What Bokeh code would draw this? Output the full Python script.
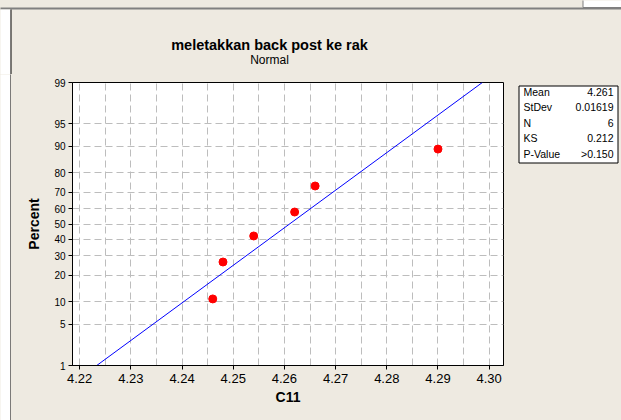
from statistics import NormalDist
from bokeh.plotting import figure
from bokeh.layouts import column, row
from bokeh.models import (Range1d, FixedTicker, NumeralTickFormatter,
                          ColumnDataSource)
from bokeh.core.properties import value
from bokeh.embed import file_html
from bokeh.resources import INLINE

# ---- data ----
values = [4.246, 4.248, 4.254, 4.262, 4.266, 4.290]
percents = [10.9, 26.6, 42.2, 57.8, 73.4, 89.1]
x_ticks = [4.22, 4.23, 4.24, 4.25, 4.26, 4.27, 4.28, 4.29, 4.30]
y_tick_pcts = [1, 5, 10, 20, 30, 40, 50, 60, 70, 80, 90, 95, 99]
stat_names = ["Mean", "StDev", "N", "KS", "P-Value"]
stat_values = ["4.261", "0.01619", "6", "0.212", ">0.150"]
mean_val = 4.261
sd_val = 0.01619
fit_pcts = [1, 99]
title_text = "meletakkan back post ke rak"
subtitle_text = "Normal"

nd = NormalDist()
def z(p):
    return nd.inv_cdf(p / 100.0)

W, H = 621, 420
BG = "#EEEAE1"
FONT = "Liberation Sans"

# page-layout constants (pixels from the page's top-left)
TOP_H = 9          # strip at the very top
LEFT_W = 11        # white strip + black line at the left
HEAD_B = 74        # bottom of the title area
MAIN_R = 510       # right edge of the main plot figure
FL, FR, FT, FB = 72, 503, 82, 365   # plot frame edges


def canvas_fig(x0, x1, y0, y1):
    """Figure whose frame is its whole canvas, in page pixel coordinates."""
    f = figure(width=x1 - x0, height=y1 - y0, output_backend="svg",
               toolbar_location=None, x_range=Range1d(x0, x1),
               y_range=Range1d(y1, y0), x_axis_type=None, y_axis_type=None,
               min_border=0, min_border_left=0, min_border_right=0,
               min_border_top=0, min_border_bottom=0, frame_align=False)
    f.grid.visible = False
    f.outline_line_color = None
    f.background_fill_color = BG
    f.border_fill_color = BG
    return f


def put_text(f, x, y, s, size, align="left", bold=False):
    f.text(x=[x], y=[y], text=[s], text_font=value(FONT),
           text_font_size=size, text_font_style="bold" if bold else "normal",
           text_align=align, text_baseline="alphabetic", text_color="black")


def left_strip(f, y0, y1):
    f.quad(left=[-1], right=[10], top=[y0], bottom=[y1], fill_color="white",
           line_color=None)
    f.quad(left=[10], right=[LEFT_W], top=[y0], bottom=[y1],
           fill_color="black", line_color=None)


# ---- header: top strip, left strip (upper part), title ----
head = canvas_fig(0, W, 0, HEAD_B)
head.quad(left=[-1], right=[W + 1], top=[7], bottom=[TOP_H],
          fill_color="#808080", line_color=None)
head.quad(left=[582.5], right=[W + 1], top=[-1], bottom=[7],
          fill_color="white", line_color="#7F7F7F", line_width=1)
left_strip(head, TOP_H, HEAD_B + 1)
put_text(head, 269, 44, title_text, "14.5px", "center", bold=True)
put_text(head, 269, 59, subtitle_text, "12px", "center")

# ---- left strip (lower part) ----
left = canvas_fig(0, LEFT_W, HEAD_B, H)
left_strip(left, HEAD_B - 1, H + 1)

# ---- main probability plot ----
p = figure(width=MAIN_R - LEFT_W, height=H - HEAD_B, output_backend="svg",
           toolbar_location=None, frame_align=False,
           x_range=Range1d(4.2186, 4.3028), y_range=Range1d(z(1), z(99)),
           min_border_left=FL - LEFT_W, min_border_right=MAIN_R - FR,
           min_border_top=FT - HEAD_B, min_border_bottom=H - FB)
p.background_fill_color = "white"
p.border_fill_color = BG
p.outline_line_color = "black"
p.outline_line_width = 1

minor = [(a + b) / 2 for a, b in zip(x_ticks[:-1], x_ticks[1:])]
p.xaxis.ticker = FixedTicker(ticks=x_ticks, minor_ticks=minor)
p.xaxis.formatter = NumeralTickFormatter(format="0.00")
p.yaxis.ticker = FixedTicker(ticks=[z(v) for v in y_tick_pcts])
p.yaxis.major_label_overrides = {z(v): str(v) for v in y_tick_pcts}

for ax in (p.xaxis[0], p.yaxis[0]):
    ax.axis_line_color = "black"
    ax.major_tick_line_color = "black"
    ax.major_tick_in = 0
    ax.major_tick_out = 4
    ax.minor_tick_line_color = None
    ax.major_label_text_font = FONT
    ax.major_label_text_color = "black"
    ax.axis_label_text_font = FONT
    ax.axis_label_text_font_style = "bold"
    ax.axis_label_text_font_size = "14px"
    ax.axis_label_text_color = "black"

p.xaxis.major_label_text_font_size = "13px"
p.xaxis.major_label_standoff = 4
p.xaxis.axis_label = "C11"
p.xaxis.axis_label_standoff = 3
p.yaxis.major_label_text_font_size = "10px"
p.yaxis.major_label_standoff = 3
p.yaxis.axis_label = "Percent"
p.yaxis.axis_label_standoff = 9

GRID = "#BDBDBD"
p.xgrid.grid_line_color = GRID
p.xgrid.grid_line_dash = "7 4"
p.xgrid.minor_grid_line_color = GRID
p.xgrid.minor_grid_line_dash = "7 4"
p.ygrid.grid_line_color = GRID
p.ygrid.grid_line_dash = "7 4"

fit_x = [mean_val + sd_val * z(v) for v in fit_pcts]
fit_y = [z(v) for v in fit_pcts]
p.line(fit_x, fit_y, line_color="#0000FF", line_width=1)

src = ColumnDataSource(dict(x=values, y=[z(v) for v in percents]))
p.scatter("x", "y", source=src, size=8, fill_color="#FF0000",
          line_color="#FF0000")

# ---- stats box ----
stats = canvas_fig(MAIN_R, W, HEAD_B, H)
stats.quad(left=[518.5], right=[617.5], top=[85.5], bottom=[162.5],
           fill_color="white", line_color="black", line_width=1)
for i, (nm, vl) in enumerate(zip(stat_names, stat_values)):
    yb = 91 + i * 15.5
    put_text(stats, 523, yb, nm, "10.5px", "left")
    put_text(stats, 613, yb, vl, "10.5px", "right")

inner = row(left, p, stats, styles={"background-color": BG})
layout = column(head, inner, styles={"background-color": BG})
open("out.html", "w").write(file_html(layout, INLINE))
